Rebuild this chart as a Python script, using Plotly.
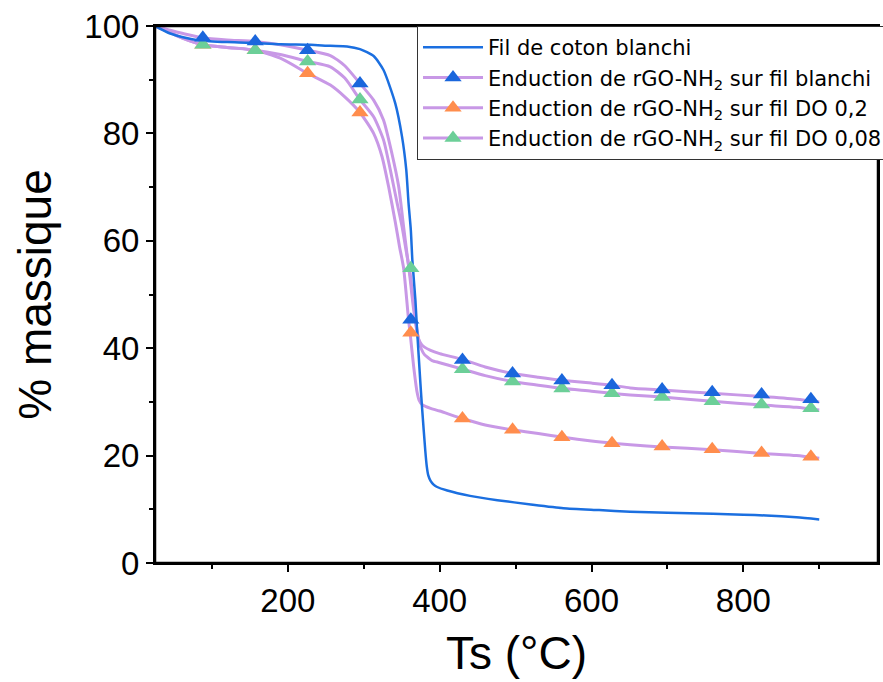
import plotly.graph_objects as go

# ---------------- data ----------------
T_coton = [25, 45, 62, 84, 120, 150, 190, 230, 256, 278, 295, 313, 326, 341.5, 350.4,
           356, 359, 362, 364, 368, 370, 374.6, 377, 381, 383, 385, 388, 392, 396,
           410, 440, 476, 520, 563, 610, 651, 700, 760, 800, 830, 870, 900]
M_coton = [100, 98.6, 97.9, 97.3, 97.0, 96.9, 96.6, 96.5, 96.3, 96.2, 95.7, 94.4, 91.8, 85.6, 79.4,
           73.2, 67.0, 62.0, 56.4, 49.0, 44.0, 33.5, 28.5, 21.0, 18.0, 16.3, 15.3, 14.6, 14.2,
           13.5, 12.5, 11.7, 10.9, 10.2, 9.85, 9.55, 9.35, 9.15, 9.0, 8.85, 8.5, 8.1]

T_blanchi = [25, 45, 62, 88, 120, 157, 190, 226, 256, 275, 295, 313, 326, 337, 346, 352.5,
             357, 361, 365, 369, 372, 376, 380, 388, 400, 430, 460, 496, 530, 563, 600,
             627, 651, 693, 759, 825, 870, 900]
M_blanchi = [100, 99.2, 98.6, 97.8, 97.4, 97.1, 96.5, 95.5, 94.5, 92.6, 89.3, 86.2, 82.5, 76.3, 70.1, 62.6,
             57.5, 53.0, 48.0, 44.0, 41.8, 40.7, 40.2, 39.6, 39.0, 37.9, 36.5, 35.3, 34.6, 34.0, 33.5,
             33.1, 32.6, 32.2, 31.6, 31.0, 30.5, 30.0]

T_do02 = [25, 45, 62, 88, 120, 157, 190, 226, 256, 275, 295, 313, 324, 332.7, 341.5, 347,
          352.5, 359, 361, 365.7, 370, 373, 377, 382, 388, 400, 430, 460, 496, 530, 563,
          600, 627, 651, 693, 759, 825, 870, 900]
M_do02 = [100, 98.8, 97.7, 96.5, 96.0, 95.5, 94.0, 91.2, 89.0, 86.8, 83.9, 80.0, 75.7, 70.1, 63.5, 59.0,
          54.9, 45.3, 42.9, 36.6, 32.0, 30.3, 29.5, 29.1, 28.8, 28.3, 26.9, 25.7, 24.8, 24.1, 23.4,
          22.7, 22.3, 22.0, 21.6, 21.1, 20.4, 20.0, 19.5]

T_do008 = [25, 45, 62, 88, 120, 157, 190, 226, 256, 275, 295, 313, 326, 335, 344, 350.5,
           356, 361, 365, 369, 372, 376, 380, 385, 390, 400, 430, 460, 496, 530, 563,
           600, 627, 651, 693, 759, 825, 870, 900]
M_do008 = [100, 98.8, 97.7, 96.5, 96.0, 95.5, 94.7, 93.4, 92.4, 90.3, 86.3, 83.1, 78.8, 73.2, 67.0, 62.6,
           58.0, 54.0, 49.0, 44.5, 41.8, 39.8, 38.8, 38.2, 37.7, 37.3, 36.1, 34.9, 33.8, 33.1, 32.5,
           32.0, 31.6, 31.3, 30.9, 30.1, 29.4, 29.0, 28.5]

# marker positions (symbols drawn every ~67 °C)
T_mark = [88, 157, 226, 295, 362, 430, 496, 561, 627, 693, 759, 824, 889]
M_mark_blanchi = [97.8, 97.1, 95.5, 89.3, 45.3, 37.8, 35.3, 34.0, 33.1, 32.3, 31.8, 31.4, 30.5]
M_mark_do02 = [96.5, 95.5, 91.2, 83.9, 42.9, 26.9, 24.8, 23.4, 22.3, 21.7, 21.2, 20.5, 19.8]
M_mark_do008 = [96.5, 95.5, 93.4, 86.3, 54.9, 36.1, 33.8, 32.5, 31.6, 30.9, 30.1, 29.5, 28.8]

names = ["Fil de coton blanchi",
         "Enduction de rGO-NH<sub>2</sub> sur fil blanchi",
         "Enduction de rGO-NH<sub>2</sub> sur fil DO 0,2",
         "Enduction de rGO-NH<sub>2</sub> sur fil DO 0,08"]

x_ticks = [200, 400, 600, 800]
y_ticks = [0, 20, 40, 60, 80, 100]

# ---------------- styles ----------------
BLUE_LINE = "#1b6fe0"
PURPLE = "#c898e6"
MK_BLUE = "#1a66dc"
MK_ORANGE = "#ff8d4d"
MK_GREEN = "#6ccf98"
FONT = "Liberation Sans, Arial, sans-serif"
LEG_FONT = "DejaVu Sans, Liberation Sans, sans-serif"

fig = go.Figure()

# purple lines
for T, M in [(T_blanchi, M_blanchi), (T_do02, M_do02), (T_do008, M_do008)]:
    fig.add_trace(go.Scatter(x=T, y=M, mode="lines", line=dict(color=PURPLE, width=3, shape="spline", smoothing=0.6),
                             showlegend=False, hoverinfo="skip"))
# cotton line
fig.add_trace(go.Scatter(x=T_coton, y=M_coton, mode="lines",
                         line=dict(color=BLUE_LINE, width=2.5, shape="spline", smoothing=0.6),
                         name=names[0], legendrank=1))
# markers
for M, c in [(M_mark_do02, MK_ORANGE), (M_mark_do008, MK_GREEN), (M_mark_blanchi, MK_BLUE)]:
    fig.add_trace(go.Scatter(x=T_mark, y=M, mode="markers",
                             marker=dict(symbol="triangle-up", size=15, color=c, line=dict(width=0)),
                             showlegend=False))
# legend-only entries (line + symbol)
for i, c in [(1, MK_BLUE), (2, MK_ORANGE), (3, MK_GREEN)]:
    fig.add_trace(go.Scatter(x=[None], y=[None], mode="lines+markers", name=names[i],
                             line=dict(color=PURPLE, width=3),
                             marker=dict(symbol="triangle-up", size=15, color=c, line=dict(width=0)),
                             legendrank=1 + i))

axis_common = dict(showline=True, linecolor="black", linewidth=2, mirror=True,
                   ticks="outside", ticklen=7, tickwidth=1.5, tickcolor="black",
                   showgrid=False, zeroline=False, automargin=False,
                   ticklabeloverflow="allow",
                   tickfont=dict(family=FONT, size=33, color="black"))

fig.update_xaxes(range=[25, 977.4], tickvals=x_ticks,
                 minor=dict(dtick=100, tick0=0, ticks="outside", ticklen=4, tickwidth=1.5, tickcolor="black", showgrid=False),
                 title=dict(text="Ts (°C)", font=dict(family=FONT, size=46, color="black"), standoff=19),
                 **axis_common)
fig.update_yaxes(range=[0, 100], tickvals=y_ticks,
                 minor=dict(dtick=10, tick0=0, ticks="outside", ticklen=4, tickwidth=1.5, tickcolor="black", showgrid=False),
                 title=dict(text="% massique", font=dict(family=FONT, size=46, color="black"), standoff=18),
                 **axis_common)

# frame around the plotting area (guarantees the right-hand border)
fig.add_shape(type="rect", xref="paper", yref="paper", x0=0, x1=1, y0=0, y1=1,
              line=dict(color="black", width=2.5), fillcolor="rgba(0,0,0,0)", layer="above")

fig.update_layout(
    width=883, height=682,
    margin=dict(l=155, r=5, t=26, b=119, autoexpand=False),
    plot_bgcolor="white", paper_bgcolor="white",
    font=dict(family=FONT, color="black"),
    legend=dict(x=0.3624, y=1.0, xanchor="left", yanchor="top",
                bgcolor="white", bordercolor="#333333", borderwidth=1,
                font=dict(family=LEG_FONT, size=21, color="black"),
                traceorder="normal", itemwidth=60, tracegroupgap=0),
)

# remove the default page margin and scrollbars so the figure fills the window exactly
fig.write_html("out.html", config={"displayModeBar": False},
               post_script=("document.documentElement.style.overflow='hidden';"
                            "document.body.style.margin='0';document.body.style.overflow='hidden';"))
